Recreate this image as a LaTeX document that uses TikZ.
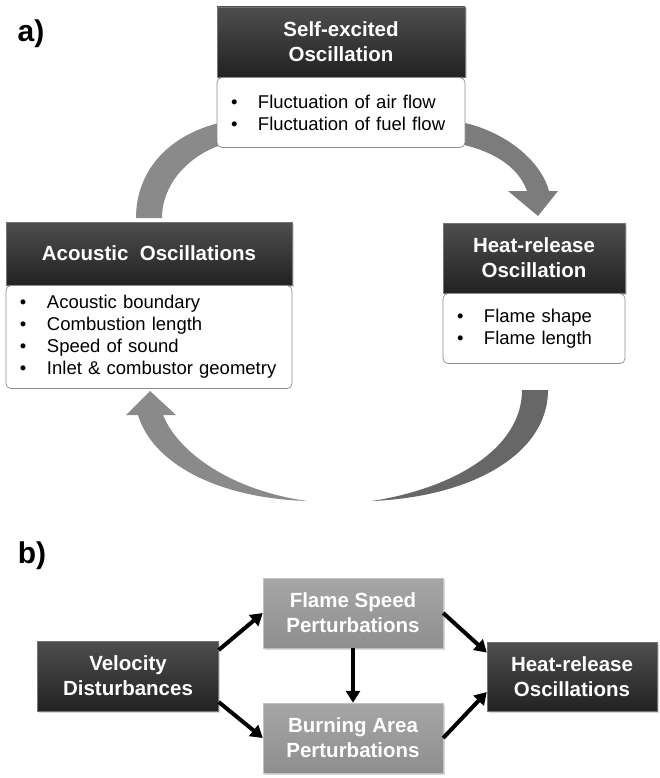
\documentclass[tikz,border=0pt]{standalone}
\usepackage{fontspec}
\setmainfont{Liberation Sans}
\usetikzlibrary{arrows.meta,positioning,calc,shadows}
\definecolor{hdTop}{HTML}{4E4E4E}
\definecolor{hdBot}{HTML}{222222}
\definecolor{pbTop}{HTML}{A6A6A6}
\definecolor{pbBot}{HTML}{8E8E8E}
\definecolor{bodyLine}{HTML}{8C8C8C}
\definecolor{arcLight}{HTML}{8A8A8A}
\definecolor{arcMid}{HTML}{7C7C7C}
\definecolor{arcDark}{HTML}{676767}
\tikzset{
  headbox/.style={draw=black!55, top color=hdTop, bottom color=hdBot, text=white, align=center, inner sep=2pt, font=\fontsize{20.5}{25}\selectfont\bfseries, drop shadow={opacity=0.3, shadow xshift=1.5pt, shadow yshift=-1.5pt}},
  bodybox/.style={draw=bodyLine, fill=white, rounded corners=5pt, line width=0.7pt, align=left, inner xsep=3pt, inner ysep=0pt, font=\fontsize{18.5}{22}\selectfont},
  pertbox/.style={draw=pbTop!70!white, top color=pbTop, bottom color=pbBot, text=white, align=center, inner sep=2pt, font=\fontsize{20.5}{25}\selectfont\bfseries, drop shadow={opacity=0.3, shadow xshift=1.5pt, shadow yshift=-1.5pt}},
  flowarr/.style={-{Triangle[length=12pt,width=14pt]}, line width=4pt, draw=black},
  tag/.style={font=\fontsize{30}{34}\selectfont\bfseries}
}
\newcommand{\bitem}[1]{\hspace*{11pt}\makebox[27pt][l]{\textbullet}#1}

\begin{document}
\begin{tikzpicture}[x=1pt,y=-1pt]
  \useasboundingbox (0,0) rectangle (659,778);
  % a) feedback cycle
  \fill[arcLight] (136,218) .. controls (136,170) and (170,132) .. (228,121) -- (228,143) .. controls (192,152) and (162,182) .. (162,218) -- cycle;
  \fill[arcMid] (455,121) .. controls (500,128) and (540,158) .. (549,191) -- (558,191) -- (538,216) -- (508,191) -- (527,191) .. controls (518,166) and (492,150) .. (455,143) -- cycle;
  \fill[arcDark] (548,390) .. controls (548,455) and (470,497) .. (372,501) .. controls (455,488) and (522,448) .. (522,390) -- cycle;
  \fill[arcLight] (307,501) .. controls (215,498) and (152,462) .. (138,415) -- (126,415) -- (150,391) -- (176,415) -- (163,415) .. controls (178,452) and (230,490) .. (307,501) -- cycle;

  \node[tag] (labA) at (31,34) {a)};
  \node[headbox, minimum width=248pt, minimum height=70pt] (selfHead) at (341,42) {Self-excited\\Oscillation};
  \node[bodybox, text width=242pt, minimum height=70pt, below=0pt of selfHead] (selfBody) {\bitem{Fluctuation of air flow}\\\bitem{Fluctuation of fuel flow}};
  \node[headbox, minimum width=286pt, minimum height=63pt] (acHead) at (149,253.5) {Acoustic\ \ Oscillations};
  \node[bodybox, text width=280pt, minimum height=103pt, below=0pt of acHead] (acBody) {\bitem{Acoustic boundary}\\\bitem{Combustion length}\\\bitem{Speed of sound}\\\bitem{Inlet \& combustor geometry}};
  \node[headbox, minimum width=182pt, minimum height=70pt] (hrHead) at (534,258) {Heat-release\\Oscillation};
  \node[bodybox, text width=176pt, minimum height=70pt, below=0pt of hrHead] (hrBody) {\bitem{Flame shape}\\\bitem{Flame length}};

  % b) flame response chain
  \node[tag] (labB) at (32,556) {b)};
  \node[headbox, minimum width=181pt, minimum height=70pt] (vel) at (128,676) {Velocity\\Disturbances};
  \node[pertbox, minimum width=180pt, minimum height=70pt] (fs) at (353,613) {Flame Speed\\Perturbations};
  \node[pertbox, minimum width=180pt, minimum height=70pt] (ba) at (353,738) {Burning Area\\Perturbations};
  \node[headbox, minimum width=170pt, minimum height=69pt] (hro) at (572,677) {Heat-release\\Oscillations};
  \draw[flowarr] (vel.16) -- (fs.west);
  \draw[flowarr] (vel.-16) -- (ba.west);
  \draw[flowarr] (fs.south) -- (ba.north);
  \draw[flowarr] (fs.east) -- (hro.164);
  \draw[flowarr] (ba.east) -- (hro.190);
\end{tikzpicture}
\end{document}
